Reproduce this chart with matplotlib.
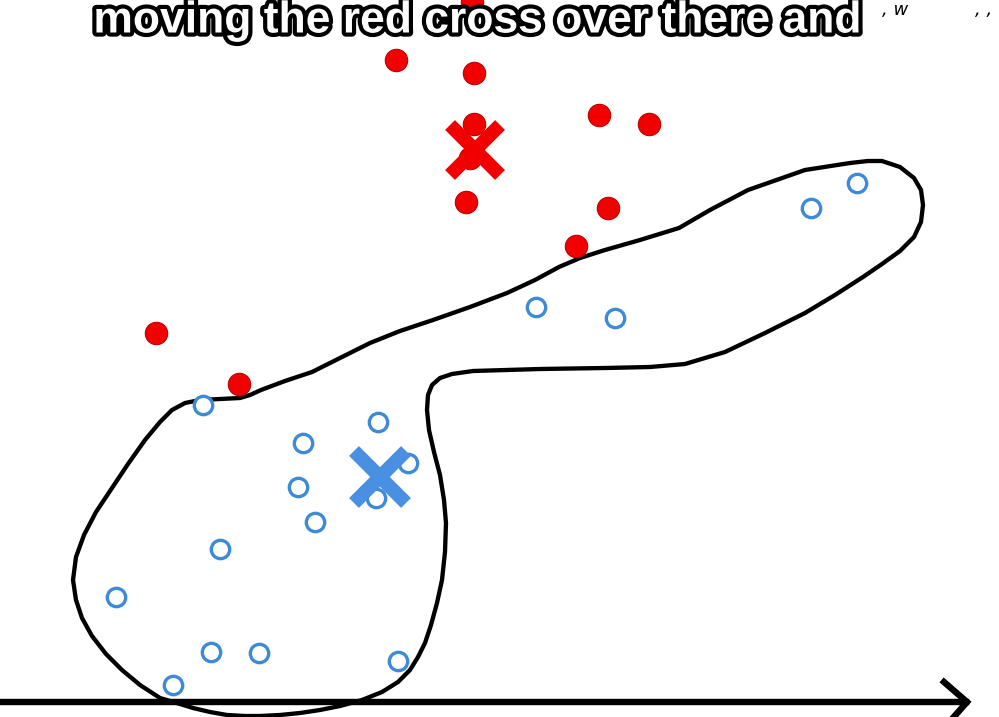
import numpy as np
import matplotlib
matplotlib.use('Agg')
import matplotlib.pyplot as plt
import matplotlib.patheffects as pe

# red class (filled dots), positions
red_x = [396, 474, 472, 474, 470, 599, 649, 466, 608, 576, 156, 239]
red_y = [60, 73, 2, 124, 158, 115, 124, 202, 208, 246, 333, 384]

# blue class (hollow circles)
blue_x = [857, 811, 536, 615, 203, 378, 303, 408, 298, 376, 315, 220, 116, 211, 259, 398, 173]
blue_y = [183, 208, 307, 318, 405, 422, 443, 463, 487, 498, 522, 549, 597, 652, 653, 661, 685]

# cluster centres (crosses)
red_cx, red_cy = 475, 150
blue_cx, blue_cy = 380, 477

# hand drawn outline of the blue cluster
blob_x = [73, 76, 82, 92, 106, 122, 140, 160, 180, 193, 210, 227, 245, 260, 280, 300,
          320, 340, 362, 382, 398, 410, 418, 425, 431, 437, 442, 445, 446, 444, 440,
          434, 429, 427, 428, 432, 440, 452, 473, 540, 605, 650, 685, 725, 765, 805,
          835, 863, 882, 900, 914, 921, 923, 921, 914, 900, 882, 868, 850, 805, 748,
          710, 679, 640, 605, 580, 559, 535, 507, 470, 433, 400, 370, 340, 312, 285,
          261, 250, 240, 220, 200, 185, 172, 160, 145, 128, 112, 96, 84, 76, 73]
blob_y = [580, 600, 618, 636, 654, 670, 685, 698, 704, 708, 712, 715, 716, 716, 715, 713,
          710, 706, 700, 692, 682, 670, 657, 643, 625, 603, 580, 552, 523, 500, 475,
          452, 430, 410, 395, 385, 378, 374, 371, 369, 368, 367, 364, 352, 333, 313,
          295, 277, 264, 251, 237, 222, 205, 190, 178, 167, 161, 161, 163, 170, 190,
          210, 228, 240, 250, 258, 267, 280, 293, 307, 320, 331, 343, 358, 372, 381,
          390, 395, 398, 399, 400, 403, 410, 422, 440, 464, 488, 512, 535, 557, 580]

caption = "moving the red cross over there and"

fig = plt.figure(figsize=(9.99, 7.17), dpi=100)
ax = fig.add_axes([0, 0, 1, 1])
ax.set_xlim(0, 999)
ax.set_ylim(717, 0)
ax.axis('off')

# blob outline
ax.plot(blob_x, blob_y, color='black', lw=3.1, solid_joinstyle='round',
        solid_capstyle='round', zorder=2)

# x axis with arrow head
ax.plot([0, 966], [702, 702], color='black', lw=4.6, zorder=2)
ax.plot([944, 967, 952], [682, 702, 719], color='black', lw=4.6,
        solid_joinstyle='miter', zorder=2)

ax.scatter(red_x, red_y, s=260, c='#f20000', edgecolors='#c00000', linewidths=0.8, zorder=3)
ax.scatter(blue_x, blue_y, s=175, facecolors='white', edgecolors='#3d8ad8', linewidths=2.4, zorder=3)

ax.plot(red_cx, red_cy, marker='x', ms=36, mew=10, color='#f20000', zorder=4)
ax.plot(blue_cx, blue_cy, marker='x', ms=38, mew=10, color='#4a90e2', zorder=4)

# subtitle overlay
ax.text(478, 21, caption, ha='center', va='center', fontsize=32, fontweight='bold',
        family=['Liberation Sans'], color='white', zorder=5,
        path_effects=[pe.withStroke(linewidth=6, foreground='black')])

# bits of handwriting cut off at the top right
ax.text(882, 1, ", w", fontsize=13, style='italic', color='black', va='top')
ax.text(975, 1, ", ,", fontsize=13, style='italic', color='black', va='top')

fig.savefig('out.png', dpi=100)
